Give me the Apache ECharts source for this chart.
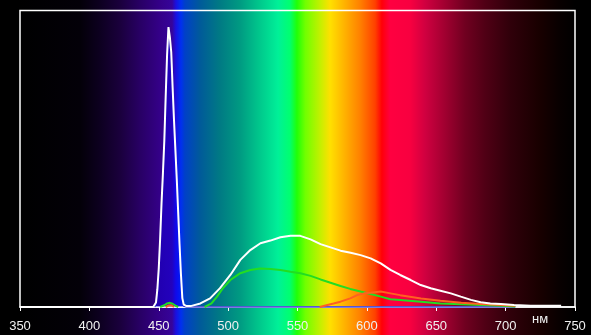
<!DOCTYPE html>
<html><head><meta charset="utf-8">
<script src="https://cdn.jsdelivr.net/npm/echarts@6/dist/echarts.min.js"></script>
<style>html,body{margin:0;padding:0;background:#000}#c{width:591px;height:335px}</style>
</head><body><div id="c"></div>
<script>
// Wavelength ticks (nm)
const xTicks = [350, 400, 450, 500, 550, 600, 650, 700, 750];
const unitLabel = 'нм';

// White (total) curve: [nm, relative intensity]
const whiteData = [
 [350,0],[440,0],[446,0],[447,0.3],[448,1.5],[449,6],[450,13],[451,23],[452,35],[453,45],[454,56],[455,71],[456,85],[457,94.4],[458,91],
 [459,86],[460,74],[461,63],[462,53],[463,43],[464,32],[465,21],[466,11],[467,3],[468,0.8],[470,0.3],[473,0.3],
 [480,1.2],[487,2.9],[494,6.3],[501.6,10.8],[508.8,15.9],[516,19.2],[523.3,21.5],[530.5,22.4],[537.7,23.5],[545,24],[552,24],
 [559.4,22.8],[566.6,21.2],[573.8,20.1],[581,19],[588.3,18.3],[595.5,17.5],[602.7,16.4],[610,14.7],[617,12.5],[624,10.8],
 [631.6,9.1],[638.8,7.4],[646,6.3],[653,5.5],[660.5,4.6],[667.7,3.5],[675,2.4],[682,1.6],[689,1.2],[696.6,1.0],[706,0.7],
 [718,0.4],[740,0.4]
];
// Blue channel
const blueData = [
 [447,0],[448,1.2],[449,5.5],[450,12.5],[451,22.5],[452,34.5],[453,44.5],[454,55.5],[455,70.5],[456,84.5],[457,94],[458,90.5],
 [459,85.5],[460,73.5],[461,62.5],[462,52.5],[463,42.5],[464,31.5],[465,20.5],[466,10.5],[467,2.5],[468,0.3],[470,0],[707,0]
];
// Green channel
const greenData = [
 [451,0],[454,0.6],[456,1.2],[458,1.4],[460,1.1],[462,0.5],[464,0],null,
 [483,0],[488,1.2],[492,3.5],[496,6.2],[501.6,9.1],[508.8,11.4],[516,12.5],[523,13],[530.5,12.8],[537.7,12.5],[545,11.9],[552,11.4],
 [559.4,10.5],[566.6,9.3],[573.8,8.2],[581,7.1],[588,6.1],[595.5,5.2],[602.7,4.4],[610,3.5],[617,2.6],[624,2.4],[639,1.8],
 [653,1.2],[668,0.9],[682,0.7],[697,0.4],[707,0.2]
];
// Red channel
const redData = [
 [455,0],[457,0.5],[459,0.6],[461,0],null,
 [566,0],[571.5,0.7],[576,1.2],[581,1.8],[588,2.9],[593,4.0],[598,4.6],[602.7,4.8],[610,5.2],[617,4.6],[624,4.0],[639,2.9],
 [653,2.1],[668,1.4],[682,1.0],[697,0.7],[707,0.4]
];

const chart = echarts.init(document.getElementById('c'), null, {renderer: 'canvas'});
const font = "'Liberation Sans Narrow','Arial Narrow',sans-serif";
const spectrum = new echarts.graphic.LinearGradient(0, 0, 1, 0, [
 {offset:0, color:'#000000'},{offset:0.108,color:'#030008'},{offset:0.144,color:'#0d0020'},{offset:0.18,color:'#1a003c'},
 {offset:0.216,color:'#280064'},{offset:0.252,color:'#340088'},{offset:0.274,color:'#36049a'},{offset:0.281,color:'#1a10e0'},
 {offset:0.29,color:'#0030f0'},{offset:0.297,color:'#0040c8'},{offset:0.324,color:'#005a9a'},{offset:0.36,color:'#007a84'},
 {offset:0.396,color:'#009a82'},{offset:0.432,color:'#00c88c'},{offset:0.465,color:'#00f098'},{offset:0.486,color:'#00ff70'},
 {offset:0.499,color:'#20ff08'},{offset:0.514,color:'#70ff00'},{offset:0.541,color:'#c4f000'},{offset:0.559,color:'#ffe000'},
 {offset:0.586,color:'#ffb000'},{offset:0.613,color:'#ff8000'},{offset:0.64,color:'#ff4000'},{offset:0.652,color:'#ff0008'},
 {offset:0.667,color:'#ff0040'},{offset:0.703,color:'#f80040'},{offset:0.73,color:'#d00040'},{offset:0.766,color:'#a00030'},
 {offset:0.802,color:'#700020'},{offset:0.838,color:'#500015'},{offset:0.883,color:'#30000a'},{offset:0.937,color:'#180000'},
 {offset:0.973,color:'#080000'},{offset:1,color:'#000000'}
]);

chart.setOption({
  backgroundColor: '#000',
  animation: false,
  graphic: [
    {type:'rect', z:-10, silent:true, shape:{x:20, y:0, width:555, height:335}, style:{fill: spectrum}},
    {type:'text', z:10, left:532, top:313, style:{text: unitLabel, fill:'#f0f0f0', font: '13px ' + font}}
  ],
  grid: {left:20, right:16, top:10.5, bottom:28, show:true, borderColor:'#ffffff', borderWidth:1.5, backgroundColor:'transparent'},
  xAxis: {
    type:'value', min:xTicks[0], max:xTicks[xTicks.length-1], interval:50,
    axisLine:{show:true, lineStyle:{color:'#ffffff', width:1.5}},
    axisTick:{show:true, length:4, lineStyle:{color:'#ffffff', width:1}},
    splitLine:{show:false},
    axisLabel:{color:'#f0f0f0', fontSize:13, fontFamily:font, margin:13, showMinLabel:true, showMaxLabel:true}
  },
  yAxis: {type:'value', min:0, max:100, show:false, splitLine:{show:false}},
  series: [
    {type:'line', data: blueData, symbol:'none', z:3, lineStyle:{color:'#2020c8', width:1.5},
     areaStyle:{color:'rgba(0,0,255,0.5)', origin:'start'}},
    {type:'line', data: greenData, symbol:'none', z:4, connectNulls:false, lineStyle:{color:'#22dd22', width:2}},
    {type:'line', data: redData, symbol:'none', z:5, connectNulls:false, lineStyle:{color:'#ff6020', width:2}},
    {type:'line', data: whiteData, symbol:'none', z:6, lineStyle:{color:'#ffffff', width:2}}
  ]
});
</script></body></html>
